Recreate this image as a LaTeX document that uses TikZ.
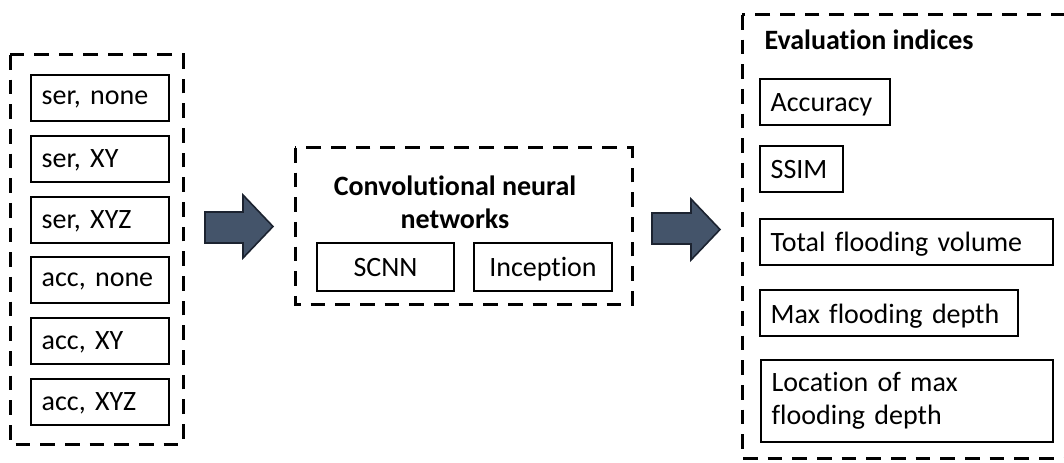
\documentclass[tikz,border=0pt]{standalone}
\usepackage{fontspec}
\setmainfont{Carlito}[Ligatures=NoCommon]
\usepackage{tikz}
\usetikzlibrary{positioning}
\definecolor{slate}{HTML}{44546A}
\definecolor{slatedark}{HTML}{1C2330}
\tikzset{
    group/.style = {draw=black, line width=2.25pt, dash pattern=on 11pt off 7.5pt},
    cell/.style = {rectangle, draw=black, line width=1.5pt, anchor=west, align=left, inner xsep=8pt, text depth=0pt, minimum height=34.5pt},
    cellc/.style = {rectangle, draw=black, line width=1.5pt, align=center, text depth=0pt, minimum width=103pt, minimum height=36pt},
    heading/.style = {font=\bfseries},
    blockarrow/.style = {fill=slate, draw=slatedark, line width=1.2pt, line join=miter},
    every picture/.style={font issue=\fontsize{21}{25}},
    font issue/.style={execute at begin picture={#1\selectfont}}
}
\begin{document}
\begin{tikzpicture}[x=0.75pt, y=-0.75pt]
\useasboundingbox (0,0) rectangle (1064,463);
\clip (0,0) rectangle (1064,463);
%
% inputs
\path[group] (10,55) rectangle (183,444);
\node[cell, text width=87.5pt] at (30, 98) (sn) {ser, none};
\node[cell, text width=87.5pt] at (30,159) (sxy) {ser, XY};
\node[cell, text width=87.5pt] at (30,220) (sxyz) {ser, XYZ};
\node[cell, text width=87.5pt] at (30,280) (an) {acc, none};
\node[cell, text width=87.5pt] at (30,341) (axy) {acc, XY};
\node[cell, text width=87.5pt] at (30,402) (axyz) {acc, XYZ};
%
% networks
\path[group] (295,148) rectangle (632,305);
\node[heading, align=center] at (455,202) (cnn) {Convolutional neural\\networks};
\node[cellc] at (385.5,267) (scnn) {SCNN};
\node[cellc] at (543,267) (incep) {Inception};
%
% evaluation
\path[group] (742,15) rectangle (1090,458);
\node[heading, anchor=base west] at (755,50) (eval) {Evaluation indices};
\node[cell, text width=81.5pt] at (759,102.5) (acc) {Accuracy};
\node[cell, text width=46.5pt] at (759,169.5) (ssim) {SSIM};
\node[cell, text width=203.75pt] at (759,242) (vol) {Total flooding volume};
\node[cell, text width=177.5pt] at (759,313.5) (depth) {Max flooding depth};
\node[cell, text depth=, text width=203pt, minimum height=61.5pt] at (760,401) (loc) {Location of max\\flooding depth};
%
% arrows
\path[blockarrow] (205,212) -- (243,212) -- (243,195) -- (273,226.5) -- (243,258) -- (243,243) -- (205,243) -- cycle;
\path[blockarrow] (652,213) -- (691,213) -- (691,199) -- (720,229.5) -- (691,260) -- (691,244) -- (652,244) -- cycle;

\end{tikzpicture}
\end{document}
